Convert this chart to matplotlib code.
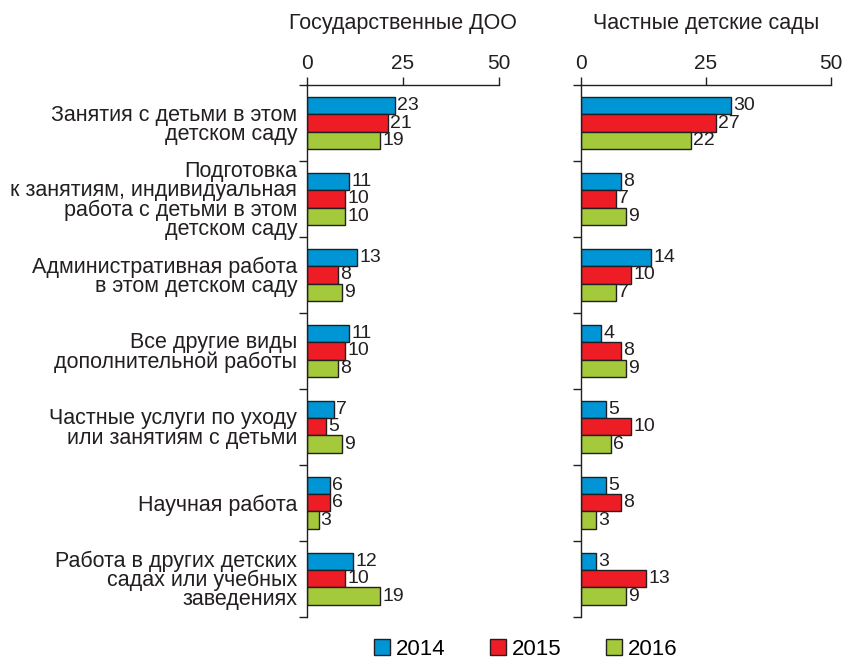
import numpy as np
import matplotlib.pyplot as plt

plt.rcParams['font.family'] = ['Liberation Sans', 'DejaVu Sans']

categories = ["Занятия с детьми в этом\nдетском саду",
              "Подготовка\nк занятиям, индивидуальная\nработа с детьми в этом\nдетском саду",
              "Административная работа\nв этом детском саду",
              "Все другие виды\nдополнительной работы",
              "Частные услуги по уходу\nили занятиям с детьми",
              "Научная работа",
              "Работа в других детских\nсадах или учебных\nзаведениях"]
years = ["2014", "2015", "2016"]

state_2014 = [23, 11, 13, 11, 7, 6, 12]
state_2015 = [21, 10, 8, 10, 5, 6, 10]
state_2016 = [19, 10, 9, 8, 9, 3, 19]

private_2014 = [30, 8, 14, 4, 5, 5, 3]
private_2015 = [27, 7, 10, 8, 10, 8, 13]
private_2016 = [22, 9, 7, 9, 6, 3, 9]

colors = ["#0096d6", "#ee1c25", "#a4c93a"]
edge = "#231f20"
txt = "#231f20"
fs_lab = 15.5
fs_num = 14

fig = plt.figure(figsize=(8.49, 6.61), dpi=100)
ax1 = fig.add_axes([0.3616, 0.0666, 0.2262, 0.8048])
ax2 = fig.add_axes([0.6843, 0.0666, 0.2945, 0.8048])

n = len(categories)
h = 0.224
centers = np.arange(n) + 0.5


def draw(ax, series, title, show_labels):
    for k, vals in enumerate(series):
        y = centers + (k - 1) * h
        ax.barh(y, vals, height=h, color=colors[k], edgecolor=edge, linewidth=1.0,
                label=years[k])
        for yy, v in zip(y, vals):
            ax.annotate(str(v), (v, yy), xytext=(1.5, 0), textcoords="offset points",
                        va="center", ha="left", fontsize=fs_num, color=txt)
    ax.set_xlim(0, 50)
    ax.set_ylim(n, 0)
    ax.set_xticks([0, 25, 50])
    ax.xaxis.tick_top()
    ax.tick_params(axis="x", direction="out", length=6, width=1, colors=edge,
                   labelsize=15, labelcolor=txt, pad=3)
    ax.set_yticks(np.arange(n + 1))
    ax.set_yticklabels([])
    ax.tick_params(axis="y", which="major", direction="out", length=6, width=1, colors=edge)
    ax.set_yticks(centers, minor=True)
    if show_labels:
        ax.set_yticklabels(categories, minor=True, fontsize=fs_lab, color=txt,
                           multialignment="right", linespacing=0.88)
    ax.tick_params(axis="y", which="minor", length=0, pad=7)
    for s in ["right", "bottom"]:
        ax.spines[s].set_visible(False)
    for s in ["top", "left"]:
        ax.spines[s].set_linewidth(1)
        ax.spines[s].set_color(edge)
    ax.set_title(title, fontsize=fs_lab, color=txt, pad=40)


draw(ax1, [state_2014, state_2015, state_2016], "Государственные ДОО", True)
draw(ax2, [private_2014, private_2015, private_2016], "Частные детские сады", False)

handles, labels = ax1.get_legend_handles_labels()
fig.legend(handles, labels, loc="center", bbox_to_anchor=(0.619, 0.018), ncol=3,
           frameon=False, handlelength=0.72, handleheight=0.72, handletextpad=0.27,
           columnspacing=2.0, fontsize=16)

fig.savefig("out.png", dpi=100)
